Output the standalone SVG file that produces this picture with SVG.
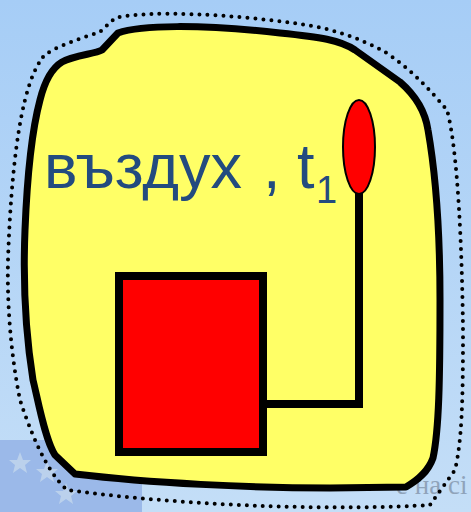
<svg xmlns="http://www.w3.org/2000/svg" width="471" height="512" viewBox="0 0 471 512">
<defs>
<linearGradient id="bg" x1="0" y1="0" x2="0" y2="1">
<stop offset="0" stop-color="#a6cdf6"/>
<stop offset="1" stop-color="#c4def7"/>
</linearGradient>
<style>
.blob{fill:#ffff66;stroke:#000;stroke-width:7;stroke-linejoin:round}
.dots{fill:none;stroke:#000;stroke-width:4;stroke-linecap:round;stroke-dasharray:0 8}
.red{fill:#ff0000;stroke:#000}
.wire{fill:none;stroke:#000;stroke-width:8}
.lbl{font-family:"Liberation Sans",Arial,sans-serif;fill:#234b7f}
.star{fill:#c9dcec;opacity:0.7}
</style>
</defs>
<rect width="471" height="512" fill="url(#bg)"/>
<rect x="0" y="440" width="142" height="72" fill="#9bb9e9"/>
<polygon class="star" points="20,452 23,460 31,460 25,465 27,473 20,468 13,473 15,465 9,460 17,460"/>
<polygon class="star" points="47,461 50,469 58,469 52,474 54,482 47,477 40,482 42,474 36,469 44,469"/>
<polygon class="star" points="66,483 69,491 77,491 71,496 73,504 66,499 59,504 61,496 55,491 63,491"/>
<text x="396" y="494" font-family="'Liberation Serif',serif" font-size="27" fill="#8fa3ba">е на сі</text>
<g id="boundary">
<path class="dots" d="M43,57 C50,48 90,35 100,32 L115,18 C150,10 230,14 300,24 C330,28 360,38 385,52 C410,68 430,90 447,110 C458,150 462,250 463,330 C463,400 462,440 455,470 L430,505 C350,510 200,508 67,490 C45,470 30,430 20,400 C10,350 7,300 8,260 C10,200 15,140 25,100 C30,80 36,66 43,57 Z"/>
</g>
<g id="air">
<path class="blob" d="M62,62 C75,55 95,54 102,50 L118,33 C140,25 200,24 280,33 C320,37 340,40 355,50 L400,82 C415,95 425,110 428,130 C435,170 440,230 440,300 C440,380 439,430 433,458 C428,472 418,480 406,487 L330,488 C250,488 150,483 75,474 L55,455 C45,440 38,400 33,380 C25,330 23,280 25,230 C27,180 32,130 40,100 C45,80 52,68 62,62 Z"/>
<text class="lbl" y="188" font-size="63"><tspan x="44">въздух</tspan><tspan x="263">,</tspan><tspan x="297">t</tspan></text>
<text class="lbl" x="316" y="203" font-size="38">1</text>
</g>
<g id="connectors">
<polyline class="wire" points="263,404 359,404 359,190"/>
</g>
<g id="heater">
<rect class="red" x="119" y="276" width="144" height="176" stroke-width="8"/>
</g>
<g id="thermometer">
<ellipse class="red" cx="359" cy="147" rx="16" ry="47" stroke-width="2"/>
</g>
</svg>
